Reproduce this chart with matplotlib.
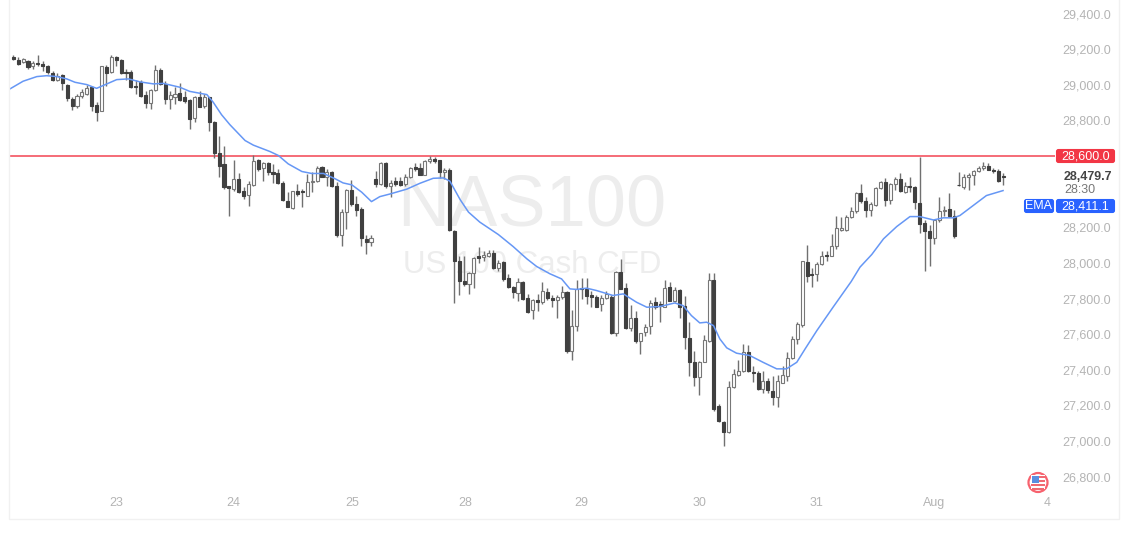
import matplotlib
matplotlib.use("Agg")
import matplotlib.pyplot as plt
from matplotlib.patches import Circle, Rectangle, FancyBboxPatch

opens = [29154,29141,29130,29132,29106,29124,29117,29106,29066,29027,
         29053,29001,28920,28881,28939,28948,28986,28885,28855,29098,
         29070,29154,29139,29070,29072,28993,29014,28943,28898,28971,
         29083,29005,28920,28930,28952,28933,28915,28814,28930,28883,
         28930,28789,28615,28555,28429,28414,28472,28401,28382,28438,
         28575,28534,28562,28513,28504,28451,28350,28309,28402,28402,
         28378,28453,28459,28541,28481,28511,28431,28157,28288,28410,
         28328,28303,28135,28116,28472,28444,28562,28434,28462,28462,
         28444,28481,28537,28530,28496,28571,28582,28575,28509,28522,
         28178,28010,27897,27882,27942,28036,28032,28038,28055,27972,
         28006,27916,27864,27830,27894,27802,27733,27793,27779,27836,
         27804,27789,27807,27836,27508,27648,27860,27854,27817,27811,
         27770,27804,27811,27605,27948,27860,27633,27690,27564,27611,
         27643,27778,27770,27755,27863,27788,27848,27760,27579,27446,
         27362,27446,27564,27904,27199,27109,27051,27302,27373,27392,
         27498,27388,27380,27294,27339,27283,27245,27328,27367,27466,
         27573,27650,28007,27938,27938,27994,28047,28041,28092,28182,
         28182,28260,28290,28391,28346,28299,28326,28419,28455,28354,
         28444,28472,28397,28434,28425,28339,28223,28178,28140,28238,
         28290,28303,28266,28440,28425,28481,28496,28515,28530,28545,28524,28515,28488]
closes = [29147,29117,29143,29102,29124,29117,29106,29070,29027,29051,
          29008,28926,28883,28939,28958,28982,28881,28847,29104,29068,
          29158,29139,29068,29066,28986,28988,28939,28898,28971,29083,
          29005,28918,28941,28948,28915,28911,28808,28933,28877,28930,
          28789,28615,28546,28424,28423,28472,28397,28378,28444,28571,
          28528,28560,28509,28500,28447,28354,28316,28402,28384,28397,
          28453,28459,28533,28485,28509,28431,28157,28288,28410,28328,
          28298,28138,28116,28142,28444,28562,28431,28449,28444,28440,
          28481,28533,28526,28496,28571,28582,28571,28509,28522,28182,
          28010,27897,27882,27942,28026,28028,28045,28056,27972,27998,
          27909,27864,27836,27892,27798,27723,27789,27779,27841,27804,
          27792,27807,27836,27508,27648,27854,27854,27813,27811,27755,
          27804,27826,27605,27948,27856,27633,27690,27564,27605,27639,
          27774,27751,27757,27860,27788,27845,27755,27582,27446,27362,
          27446,27567,27904,27180,27111,27051,27302,27377,27395,27498,
          27392,27380,27294,27339,27287,27245,27335,27371,27466,27573,
          27657,28009,27929,27933,27994,28041,28041,28092,28197,28197,
          28260,28290,28391,28346,28299,28328,28419,28455,28354,28444,
          28472,28402,28434,28425,28341,28219,28178,28139,28238,28294,
          28298,28266,28153,28436,28485,28496,28515,28533,28545,28522,28515,28462,28480]
highs = [29169,29154,29151,29139,29132,29166,29132,29113,29080,29065,
         29061,29005,28930,28948,28977,29001,28995,28902,29108,29109,
         29169,29164,29145,29089,29083,29027,29027,28967,28975,29111,
         29094,29023,28963,28986,29008,28967,28920,28937,28963,28948,
         28933,28795,28714,28658,28434,28575,28507,28425,28459,28605,
         28584,28565,28565,28556,28528,28459,28397,28406,28444,28416,
         28500,28509,28545,28545,28528,28515,28453,28303,28416,28466,
         28378,28316,28159,28159,28515,28565,28569,28466,28481,28485,
         28500,28537,28560,28563,28575,28601,28597,28578,28533,28530,
         28186,28036,28036,27948,28032,28088,28066,28073,28070,28017,
         28013,27935,27873,27916,27897,27826,27798,27826,27892,27860,
         27822,27817,27873,27841,27733,27905,27916,27916,27841,27817,
         27822,27841,27817,27952,28023,27886,27761,27729,27609,27658,
         27789,27807,27785,27904,27891,27863,27854,27816,27670,27504,
         27448,27597,27942,27942,27208,27114,27335,27405,27455,27545,
         27541,27423,27392,27395,27354,27367,27373,27423,27498,27592,
         27667,28013,28103,27972,28004,28065,28065,28163,28266,28260,
         28271,28316,28397,28444,28369,28341,28425,28462,28477,28449,
         28481,28505,28453,28485,28429,28597,28238,28210,28247,28369,
         28322,28391,28298,28509,28500,28504,28522,28545,28567,28560,28533,28528,28504]
lows = [29139,29109,29121,29091,29091,29106,29080,29061,29020,29020,
        28971,28911,28859,28870,28926,28945,28851,28799,28851,28995,
        29066,29108,29061,29027,28982,28948,28930,28870,28862,28963,
        29001,28892,28862,28892,28907,28900,28752,28789,28874,28870,
        28743,28589,28484,28413,28266,28406,28395,28358,28318,28434,
        28515,28459,28492,28449,28444,28350,28313,28301,28378,28316,
        28374,28397,28453,28481,28434,28425,28148,28092,28191,28322,
        28266,28097,28051,28095,28425,28440,28421,28369,28434,28432,
        28434,28477,28515,28492,28492,28560,28563,28477,28472,28178,
        27776,27821,27873,27826,27860,27998,28013,28032,27967,27953,
        27901,27860,27804,27785,27794,27718,27686,27729,27770,27792,
        27751,27691,27798,27493,27452,27617,27798,27770,27755,27751,
        27729,27798,27598,27587,27852,27630,27620,27549,27489,27588,
        27598,27742,27669,27751,27785,27779,27691,27517,27367,27311,
        27260,27442,27558,27171,27105,26974,27047,27298,27367,27386,
        27388,27330,27289,27268,27268,27204,27189,27324,27339,27461,
        27545,27642,27891,27863,27901,27989,28013,28039,28079,28178,
        28178,28253,28279,28335,28260,28266,28322,28414,28322,28331,
        28410,28397,28391,28397,28303,28167,27953,27983,28107,28232,
        28266,28260,28140,28434,28416,28410,28440,28509,28522,28519,28504,28453,28440]

# ema read at a subset of bars
ema_bar = [-0.8,2,4.8,6.8,8.9,10.9,12.6,15,17,19.1,21.1,23.5,25.9,28.6,30.6,34,36,39.5,40.8,42.5,44.2,
           47.3,49,52.4,54.1,56.1,58.9,60.9,63.3,65.7,67.3,69.1,71.1,73.1,74.8,76.9,80.3,83,85.7,87.8,89.1,
           91.2,92.9,95.2,99,102,104.8,106.8,109.5,111.9,113.6,115,117,119,122.4,124.5,127.2,129.3,132,
           135,136.7,138.4,140.1,141.5,142.9,144.2,145.6,147.6,150.3,153,155.8,157.8,159.9,161.6,164,167.3,
           171,172.8,175.2,177.6,180.3,183,185,187.8,189.8,191.9,193.2,195.9,198.6,202]
ema_val = [28975,29020,29046,29051,29046,29033,29014,29001,28980,29005,29029,29033,29016,29005,29008,28986,28963,28945,28902,28832,28776,
           28687,28661,28625,28603,28556,28513,28502,28502,28472,28449,28438,28397,28344,28372,28387,28414,28447,28475,28477,28459,
           28355,28285,28229,28159,28092,28023,27980,27939,27910,27854,27851,27858,27845,27817,27826,27779,27751,27755,
           27775,27760,27704,27663,27667,27648,27573,27523,27493,27480,27442,27405,27405,27442,27517,27620,27751,
           27895,27976,28047,28135,28204,28260,28260,28241,28253,28253,28266,28322,28378,28406]

price_ticks = [26800,27000,27200,27400,27600,27800,28000,28200,28400,28600,28800,29000,29200,29400]
hidden_ticks = [28400, 28600]
day_pos = [21,45,69.1,92.2,116,140.1,164,188,211]
day_labels = ["23","24","25","28","29","30","31","Aug","4"]
level = 28600
last_price = "28,479.7"
countdown = "28:30"
ema_label = "28,411.1"

GREY = "#b4b4b4"
DARK = "#404040"
FONT = ["Liberation Sans", "DejaVu Sans"]
W, H = 1129, 533

fig = plt.figure(figsize=(W / 100, H / 100), dpi=100, facecolor="white")
ax = fig.add_axes([9 / W, 1 - 519 / H, (1055 - 9) / W, 519 / H])
ax.set_xlim(-0.88, 212.6)
ax.set_ylim(26562, 29476)
ax.set_facecolor("white")
for s in ax.spines.values():
    s.set_visible(False)

ax.text(532 / W, 0.612, "NAS100", transform=fig.transFigure, fontsize=52, color="#ededed",
        family=FONT, ha="center", va="center", zorder=0)
ax.text(532 / W, 0.503, "US 100 Cash CFD", transform=fig.transFigure, fontsize=22.5, color="#ededed",
        family=FONT, ha="center", va="center", zorder=0)

ax.axhline(level, color="#f4606c", lw=1.3, zorder=1)

for i in range(len(opens)):
    ax.vlines(i, lows[i], highs[i], color="#707070", lw=1.0, zorder=2)
    up = closes[i] >= opens[i]
    ax.bar(i, abs(closes[i] - opens[i]), bottom=min(opens[i], closes[i]), width=0.62,
           color="white" if up else DARK, edgecolor="#777777" if up else DARK, lw=0.8, zorder=3)

ax.plot(ema_bar, ema_val, color="#6697f5", lw=1.1, zorder=4)

ax.yaxis.tick_right()
ax.set_yticks([t for t in price_ticks if t not in hidden_ticks])
ax.set_yticklabels([f"{t:,.1f}" for t in price_ticks if t not in hidden_ticks],
                   color=GREY, fontsize=9, family=FONT)
ax.tick_params(axis="y", length=0, pad=5.5)
ax.set_xticks(day_pos)
ax.set_xticklabels(day_labels, color=GREY, fontsize=9, family=FONT)
ax.tick_params(axis="x", length=0, pad=-16)

# price panel labels and flag, placed in pixels
ov = fig.add_axes([0, 0, 1, 1], zorder=5)
ov.set_xlim(0, W)
ov.set_ylim(H, 0)
ov.axis("off")

ov.add_patch(Rectangle((8.5, -5), 1110, 524, fill=False, ec="#f1f1f1", lw=1))


def tag(x0, x1, yc, color, txt):
    ov.add_patch(FancyBboxPatch((x0 + 1, yc - 6), x1 - x0 - 2, 12, boxstyle="round,pad=0,rounding_size=1.5",
                                fc=color, ec=color, lw=1.5))
    ov.text((x0 + x1) / 2, yc + 0.3, txt, color="white", fontsize=9, family=FONT, ha="center", va="center")


tag(1056, 1115, 156, "#f23645", "28,600.0")
tag(1024, 1054, 206, "#2962ff", "EMA")
tag(1056, 1115, 206, "#2962ff", ema_label)
ov.text(1064, 177.5, last_price, color="#444444", fontsize=9, family=FONT, weight="bold", va="center")
ov.text(1064, 190, countdown, color="#777777", fontsize=9, family=FONT, va="center")

ov.add_patch(Circle((1038, 482.5), 9.5, fc="white", ec="#f7626e", lw=1.6))
ov.add_patch(Rectangle((1031, 475), 14, 14, fc="white", ec="none", zorder=2))
ov.add_patch(Rectangle((1031, 484), 14, 2, fc="#f06a72", ec="none", zorder=3))
ov.add_patch(Rectangle((1032, 488), 12, 1.8, fc="#f06a72", ec="none", zorder=3))
ov.add_patch(Rectangle((1037, 476), 8, 1.8, fc="#f06a72", ec="none", zorder=3))
ov.add_patch(Rectangle((1037, 480), 8, 1.8, fc="#f06a72", ec="none", zorder=3))
ov.add_patch(Rectangle((1032, 475.5), 7, 7, fc="#5a8fe0", ec="none", zorder=4))

fig.savefig("out.png", dpi=100)
